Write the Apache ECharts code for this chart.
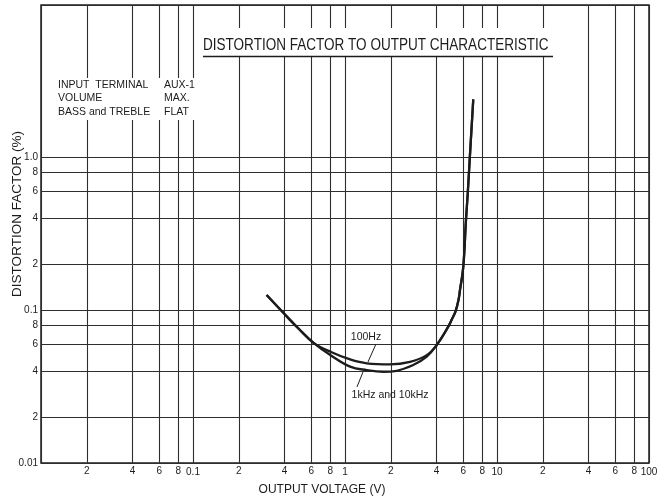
<!DOCTYPE html>
<html>
<head>
<meta charset="utf-8">
<script src="https://cdn.jsdelivr.net/npm/echarts@6/dist/echarts.min.js"></script>
<style>
  html, body { margin: 0; background: #fff; }
  #chart { width: 670px; height: 503px; }
</style>
</head>
<body>
<div id="chart"></div>
<script>
// 失真率 - 输出电压特性（对数坐标）

// 100Hz 曲线
const voltage100 = [0.305, 0.397, 0.498, 0.618, 0.809, 1.08, 1.39, 1.98, 2.68, 3.45, 4.0, 4.78, 5.06, 5.33, 5.58, 5.71, 6.0, 6.25, 6.42, 6.61, 6.98];
const distortion100 = [0.126, 0.0953, 0.0754, 0.0615, 0.0533, 0.0477, 0.0450, 0.0443, 0.0460, 0.0509, 0.059, 0.0782, 0.0877, 0.098, 0.1167, 0.136, 0.193, 0.39, 0.583, 0.964, 2.41];

// 1kHz / 10kHz 曲线
const voltage1k = [0.305, 0.397, 0.498, 0.618, 0.809, 1.08, 1.39, 1.79, 2.19, 2.81, 3.45, 4.0, 4.78, 5.06, 5.33, 5.58, 5.71, 6.0, 6.25, 6.42, 6.61, 6.98];
const distortion1k = [0.126, 0.0953, 0.0754, 0.0615, 0.0506, 0.0428, 0.0406, 0.0396, 0.0402, 0.0438, 0.0497, 0.059, 0.0782, 0.0877, 0.098, 0.1167, 0.136, 0.193, 0.39, 0.583, 0.964, 2.41];

// 坐标刻度
const xDecades = [0.01, 0.1, 1, 10, 100];
const xDecadeLabels = ['', '0.1', '1', '10', '100'];
const yDecades = [0.01, 0.1, 1, 10];
const yDecadeLabels = ['0.01', '0.1', '1.0', ''];
const xMinor = [0.02, 0.04, 0.06, 0.08, 0.2, 0.4, 0.6, 0.8, 2, 4, 6, 8, 20, 40, 60, 80];
const xMinorLabels = ['2', '4', '6', '8', '2', '4', '6', '8', '2', '4', '6', '8', '2', '4', '6', '8'];
const yMinor = [0.02, 0.04, 0.06, 0.08, 0.2, 0.4, 0.6, 0.8];
const yMinorLabels = ['2', '4', '6', '8', '2', '4', '6', '8'];

// 曲线标注与引线
const curveLabels = ['100Hz', '1kHz and 10kHz'];
const curveLabelAt = [[1.374, 0.0668], [1.98, 0.0279]];
const leaders = [
  [[1.599, 0.0602], [1.417, 0.0459]],
  [[1.313, 0.0394], [1.199, 0.0315]],
];

const notesLeft = ['INPUT  TERMINAL', 'VOLUME', 'BASS and TREBLE'];
const notesRight = ['AUX-1', 'MAX.', 'FLAT'];

const INK = '#1c1c1c';
const GRID_INK = '#2e2e2e';
const FONT = "'Liberation Sans', Arial, sans-serif";

function matchLabel(decades, labels, v) {
  const i = decades.findIndex(d => Math.abs(Math.log10(d) - Math.log10(v)) < 1e-6);
  return i >= 0 ? labels[i] : '';
}

const chart = echarts.init(document.getElementById('chart'), null, { renderer: 'canvas' });

const gridMarks = [
  ...xMinor.map((v, i) => ({ xAxis: v, label: { formatter: xMinorLabels[i] } })),
  ...yMinor.map((v, i) => ({ yAxis: v, label: { formatter: yMinorLabels[i] } })),
  ...leaders.map(seg => [
    { coord: seg[0], lineStyle: { width: 1, color: INK }, label: { show: false } },
    { coord: seg[1] },
  ]),
];

const option = {
  animation: false,
  backgroundColor: '#fff',
  grid: {
    left: 41, right: 21, top: 5, bottom: 40,
    show: true,
    borderColor: INK,
    borderWidth: 1.5,
  },
  xAxis: {
    type: 'log',
    logBase: 10,
    min: 0.01,
    max: 100,
    axisLine: { show: false },
    axisTick: { show: false },
    axisLabel: {
      margin: 4,
      fontSize: 10,
      color: INK,
      fontFamily: FONT,
      formatter: v => matchLabel(xDecades, xDecadeLabels, v),
    },
    splitLine: { show: true, lineStyle: { color: GRID_INK, width: 1.1 } },
  },
  yAxis: {
    type: 'log',
    logBase: 10,
    min: 0.01,
    max: 10,
    axisLine: { show: false },
    axisTick: { show: false },
    axisLabel: {
      margin: 3,
      fontSize: 10,
      color: INK,
      fontFamily: FONT,
      formatter: v => matchLabel(yDecades, yDecadeLabels, v),
    },
    splitLine: { show: true, lineStyle: { color: GRID_INK, width: 1.1 } },
  },
  series: [
    {
      name: '100Hz',
      type: 'line',
      data: voltage100.map((v, i) => [v, distortion100[i]]),
      showSymbol: false,
      smooth: 0.4,
      lineStyle: { color: INK, width: 2.3 },
      z: 5,
      markLine: {
        silent: true,
        symbol: 'none',
        animation: false,
        lineStyle: { type: 'solid', color: GRID_INK, width: 1.1 },
        label: {
          show: true,
          position: 'start',
          distance: 3,
          color: INK,
          fontSize: 10,
          fontFamily: FONT,
        },
        emphasis: { disabled: true },
        data: gridMarks,
      },
      markPoint: {
        silent: true,
        symbol: 'rect',
        symbolSize: 1,
        itemStyle: { color: 'rgba(0,0,0,0)' },
        label: {
          show: true,
          position: 'inside',
          color: INK,
          fontSize: 10.5,
          fontFamily: FONT,
        },
        data: curveLabels.map((t, i) => ({ coord: curveLabelAt[i], label: { formatter: t } })),
      },
    },
    {
      name: '1kHz and 10kHz',
      type: 'line',
      data: voltage1k.map((v, i) => [v, distortion1k[i]]),
      showSymbol: false,
      smooth: 0.4,
      lineStyle: { color: INK, width: 2.3 },
      z: 5,
    },
  ],
  graphic: [
    // 标题底衬（遮住网格线）
    { type: 'rect', z: 50, shape: { x: 200, y: 28, width: 356, height: 28 }, style: { fill: '#fff' } },
    {
      type: 'text', z: 51, x: 203, y: 45, scaleX: 0.82,
      style: {
        text: 'DISTORTION FACTOR TO OUTPUT CHARACTERISTIC',
        font: `16.5px ${FONT}`,
        fill: INK,
        textVerticalAlign: 'middle',
      },
    },
    { type: 'line', z: 51, shape: { x1: 203, y1: 56.5, x2: 553, y2: 56.5 }, style: { stroke: INK, lineWidth: 1.5 } },
    // 测试条件说明
    { type: 'rect', z: 50, shape: { x: 55, y: 78, width: 142, height: 42 }, style: { fill: '#fff' } },
    ...notesLeft.map((t, i) => ({
      type: 'text', z: 51, x: 58, y: 85 + i * 13.5,
      style: { text: t, font: `10.5px ${FONT}`, fill: INK, textVerticalAlign: 'middle' },
    })),
    ...notesRight.map((t, i) => ({
      type: 'text', z: 51, x: 164, y: 85 + i * 13.5,
      style: { text: t, font: `10.5px ${FONT}`, fill: INK, textVerticalAlign: 'middle' },
    })),
    // 坐标轴名称
    {
      type: 'text', z: 51, x: 17, y: 214, rotation: Math.PI / 2,
      style: {
        text: 'DISTORTION FACTOR (%)',
        font: `13.5px ${FONT}`,
        fill: INK,
        textAlign: 'center',
        textVerticalAlign: 'middle',
      },
    },
    {
      type: 'text', z: 51, x: 322, y: 490,
      style: {
        text: 'OUTPUT VOLTAGE (V)',
        font: `12px ${FONT}`,
        fill: INK,
        textAlign: 'center',
        textVerticalAlign: 'middle',
      },
    },
  ],
};

chart.setOption(option);
</script>
</body>
</html>
